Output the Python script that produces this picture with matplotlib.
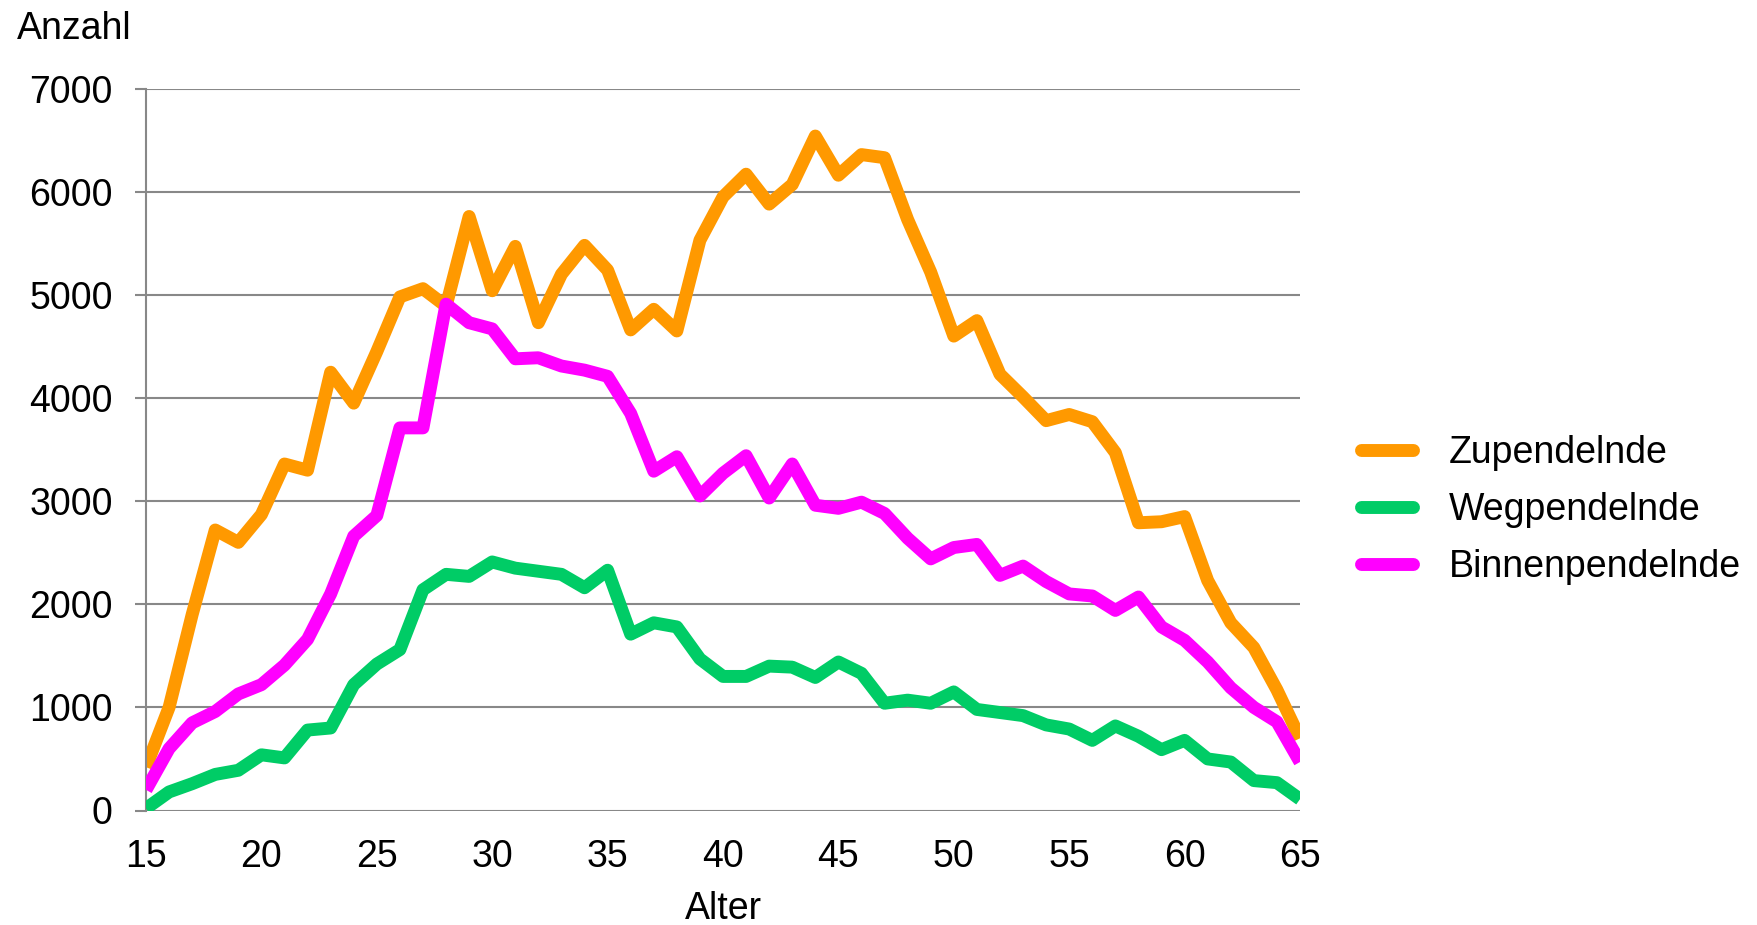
import numpy as np
import matplotlib
matplotlib.use('Agg')
import matplotlib.pyplot as plt

ages = list(range(15, 66))

zupendelnde = [420, 1000, 1900, 2720, 2600, 2870, 3360, 3300, 4250, 3950,
               4450, 4980, 5060, 4890, 5760, 5040, 5470, 4730, 5200, 5480,
               5240, 4660, 4860, 4650, 5530, 5950, 6170, 5880, 6070, 6540,
               6160, 6360, 6330, 5730, 5220, 4600, 4750, 4230, 4010, 3780,
               3840, 3770, 3470, 2790, 2800, 2850, 2230, 1820, 1580, 1170,
               700]
wegpendelnde = [20, 180, 260, 350, 390, 540, 510, 780, 800, 1220,
                1420, 1560, 2140, 2290, 2270, 2410, 2350, 2320, 2290, 2160,
                2330, 1710, 1820, 1780, 1470, 1300, 1300, 1400, 1390, 1290,
                1440, 1330, 1040, 1070, 1040, 1150, 980, 950, 920, 830,
                790, 680, 820, 720, 590, 680, 500, 470, 290, 270,
                110]
binnenpendelnde = [200, 600, 850, 960, 1130, 1220, 1410, 1660, 2100, 2660,
                   2860, 3710, 3710, 4910, 4730, 4670, 4380, 4390, 4310, 4270,
                   4210, 3850, 3290, 3430, 3050, 3270, 3440, 3030, 3360, 2960,
                   2930, 2990, 2880, 2640, 2440, 2550, 2580, 2280, 2370, 2220,
                   2100, 2080, 1940, 2070, 1780, 1650, 1440, 1190, 1000, 860,
                   470]

series_names = ['Zupendelnde', 'Wegpendelnde', 'Binnenpendelnde']
colors = ['#FF9900', '#00CC66', '#FF00FF']
xticks = [15, 20, 25, 30, 35, 40, 45, 50, 55, 60, 65]
yticks = [0, 1000, 2000, 3000, 4000, 5000, 6000, 7000]

plt.rcParams['font.family'] = ['Liberation Sans', 'DejaVu Sans']
fs = 27
lw = 9.3
grid_col = '#888888'

fig = plt.figure(figsize=(17.58, 9.25), dpi=100)
ax = fig.add_axes([146 / 1758, 1 - 810.5 / 925, (1300 - 146) / 1758, (810.5 - 88.6) / 925])

data = [zupendelnde, wegpendelnde, binnenpendelnde]
zorders = [2, 4, 3]
handles = []
for name, vals, col, z in zip(series_names, data, colors, zorders):
    h, = ax.plot(ages, vals, color=col, lw=lw, label=name, zorder=z,
                 solid_joinstyle='round', solid_capstyle='butt')
    handles.append(h)

ax.set_xlim(15, 65)
ax.set_ylim(0, 7000)
ax.set_xticks(xticks)
ax.set_yticks(yticks)
ax.yaxis.grid(True, color=grid_col, lw=1.5)
ax.set_axisbelow(True)
for s in ['top', 'right', 'bottom']:
    ax.spines[s].set_visible(False)
ax.spines['left'].set_color(grid_col)
ax.spines['left'].set_linewidth(1.5)
ax.tick_params(axis='y', length=8, width=1.5, color=grid_col, pad=16, labelsize=fs)
ax.tick_params(axis='x', length=0, pad=20.5, labelsize=fs)
ax.set_xlabel('Alter', fontsize=fs, labelpad=11.5)

fig.text(16.7 / 1758, 1 - 39.3 / 925, 'Anzahl', fontsize=fs, ha='left', va='baseline')

leg = fig.legend(handles=handles, loc='center left', bbox_to_anchor=(1361 / 1758, 1 - 510 / 925),
                 frameon=False, fontsize=fs, handlelength=1.4, handletextpad=0.95,
                 labelspacing=0.55, borderpad=0, borderaxespad=0)
for lh in leg.get_lines():
    lh.set_solid_capstyle('round')
    lh.set_linewidth(lw)

fig.savefig('out.png', dpi=100)
